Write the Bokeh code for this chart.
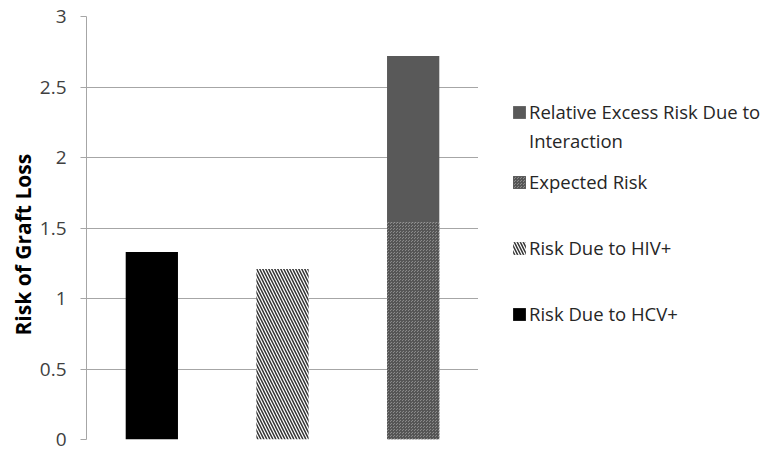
from bokeh.plotting import figure
from bokeh.models import Legend, LegendItem, FactorRange, Title
from bokeh.layouts import row
from bokeh.embed import file_html
from bokeh.resources import INLINE

categories = ["HCV+", "HIV+", "HCV+/HIV+"]
risk_hcv = [1.33, 0, 0]
risk_hiv = [0, 1.21, 0]
expected_risk = [0, 0, 1.54]
interaction_risk = [0, 0, 1.18]
interaction_bottom = [a for a in expected_risk]
interaction_top = [a + b for a, b in zip(expected_risk, interaction_risk)]
legend_labels = ["Relative Excess Risk Due to", "Interaction", "Expected Risk",
                 "Risk Due to HIV+", "Risk Due to HCV+"]

STY_HCV = dict(fill_color="black", line_color=None)
STY_HIV = dict(fill_color="white", line_color=None, hatch_pattern="left_diagonal_line",
               hatch_color="#333333", hatch_scale=6, hatch_weight=1.5)
STY_EXP = dict(fill_color="#8a8a8a", line_color=None, hatch_pattern="criss_cross",
               hatch_color="#555555", hatch_scale=3, hatch_weight=1)
STY_INT = dict(fill_color="#595959", line_color=None)
STY_NONE = dict(fill_alpha=0, line_color=None)

p = figure(x_range=FactorRange(*categories), y_range=(0, 3),
           width=478, height=452, output_backend="svg", toolbar_location=None,
           min_border_left=86, min_border_right=0, min_border_top=16, min_border_bottom=13)
p.outline_line_color = None

W = 0.4
p.vbar(x=categories, top=risk_hcv, width=W, **STY_HCV)
p.vbar(x=categories, top=risk_hiv, width=W, **STY_HIV)
p.vbar(x=categories, top=expected_risk, width=W, **STY_EXP)
p.vbar(x=categories, bottom=interaction_bottom, top=interaction_top, width=W, **STY_INT)

p.xaxis.visible = False
p.xgrid.visible = False
p.ygrid.grid_line_color = "#a6a6a6"
p.ygrid.grid_line_width = 1
p.yaxis.ticker = [0, 0.5, 1, 1.5, 2, 2.5, 3]
p.yaxis.axis_line_color = "#a6a6a6"
p.yaxis.major_tick_line_color = "#a6a6a6"
p.yaxis.major_tick_out = 6
p.yaxis.major_tick_in = 0
p.yaxis.minor_tick_line_color = None
p.yaxis.major_label_text_font = "Open Sans"
p.yaxis.major_label_text_font_size = "19px"
p.yaxis.major_label_text_color = "#404040"
p.yaxis.major_label_standoff = 14
p.add_layout(Title(text="Risk of Graft Loss", align="left", offset=104,
                   text_font="Open Sans", text_font_style="bold",
                   text_font_size="21px", text_color="black", standoff=0), "left")

# legend panel
q = figure(width=293, height=452, output_backend="svg", toolbar_location=None,
           x_range=(0, 1), y_range=(0, 1), min_border=0)
q.axis.visible = False
q.grid.visible = False
q.outline_line_color = None
proxy = dict(x=[-1], top=[0], width=0)
g_int = q.vbar(**proxy, **STY_INT)
g_none = q.vbar(**proxy, **STY_NONE)
g_exp = q.vbar(**proxy, **STY_EXP)
g_hiv = q.vbar(**proxy, **STY_HIV)
g_hcv = q.vbar(**proxy, **STY_HCV)

def mk_legend(items, loc, spacing):
    return Legend(items=items, location=loc, spacing=spacing, padding=0, margin=0,
                  label_text_font="Open Sans", label_text_font_size="18.5px",
                  label_height=22,
                  label_text_color="#262626", glyph_width=16, glyph_height=16,
                  label_standoff=2, border_line_color=None, background_fill_alpha=0)

leg1 = mk_legend([LegendItem(label=legend_labels[0], renderers=[g_int]),
                  LegendItem(label=legend_labels[1], renderers=[g_none])], (33, 286), 4)
leg2 = mk_legend([LegendItem(label=legend_labels[2], renderers=[g_exp]),
                  LegendItem(label=legend_labels[3], renderers=[g_hiv]),
                  LegendItem(label=legend_labels[4], renderers=[g_hcv])], (33, 113), 41)
q.add_layout(leg1)
q.add_layout(leg2)

open("out.html", "w").write(file_html(row(p, q), INLINE))
